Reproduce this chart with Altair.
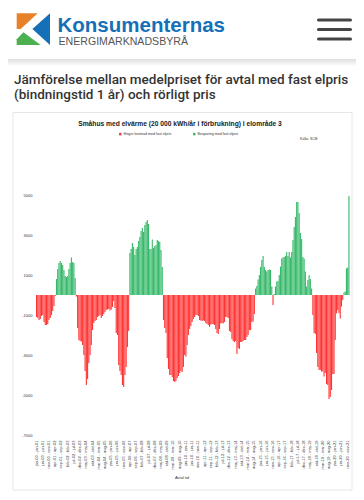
import altair as alt
import pandas as pd

# ---------------- data ----------------
years = list(range(2000, 2021))
month_names = ["jan", "feb", "mar", "apr", "maj", "jun", "jul", "aug", "sep", "okt", "nov", "dec"]

diff_2000 = [-1100, -1150, -1250, -1200, -1050, -1000, -1350, -1500, -1500, -1450, -1250, -1150]
diff_2001 = [-1000, -800, -550, -50, 800, 1300, 1600, 1700, 1600, 1500, 1250, 950]
diff_2002 = [900, 950, 1300, 1600, 1880, 1650, 1600, 850, -80, -1650, -2250, -2300]
diff_2003 = [-2330, -2500, -3000, -3800, -4500, -4200, -3400, -3000, -2500, -1750, -1400, -1300]
diff_2004 = [-1250, -1100, -1050, -1000, -1150, -1050, -950, -850, -750, -720, -700, -780]
diff_2005 = [-720, -600, -300, -650, -1900, -2000, -3500, -3800, -4000, -4500, -4600, -4000]
diff_2006 = [-3600, -2600, -1800, 2100, 2300, 2600, 2400, 2000, 2300, 2400, 2700, 2900]
diff_2007 = [3200, 3350, 3150, 3500, 3650, 3750, 3550, 2300, 2300, 2780, 2350, 2450]
diff_2008 = [2500, 2750, 2700, 2650, 2250, 1400, -1250, -1650, -1900, -3150, -3700, -4000]
diff_2009 = [-4000, -4100, -4300, -4350, -4300, -4150, -4050, -3900, -3800, -3850, -3600, -3000]
diff_2010 = [-3080, -2500, -2000, -1700, -1550, -1350, -1200, -1100, -1000, -1000, -1050, -1250]
diff_2011 = [-1280, -1300, -1280, -1300, -1400, -1450, -1500, -1600, -1480, -1450, -1450, -1500]
diff_2012 = [-1700, -1900, -1950, -1700, -1420, -1400, -1420, -1350, -1100, -1100, -1150, -1800]
diff_2013 = [-1850, -2200, -2300, -2350, -2300, -2950, -2650, -2700, -2350, -2350, -2300, -2250]
diff_2014 = [-2250, -2100, -2000, -1750, -1750, -1350, -1330, -950, 330, 450, 780, 1000]
diff_2015 = [1400, 1750, 1950, 1400, 1250, 1170, 1250, 1280, 1250, 420, -500, 50]
diff_2016 = [420, 670, 700, 1000, 1420, 1830, 1880, 1900, 1950, 2150, 1950, 2150]
diff_2017 = [1880, 2150, 2750, 3400, 3900, 4650, 4650, 4100, 3100, 2800, 1900, 1830]
diff_2018 = [1170, 420, 750, 1000, 800, 330, -1000, -1900, -1950, -2900, -3600, -3750]
diff_2019 = [-3750, -3830, -3830, -4080, -3900, -4450, -4500, -5200, -5100, -4750, -3950, -3950]
diff_2020 = [-2250, -920, -750, -900, -1170, -580, -250, 130, 180, 1330, 1380, 4950]

yearly = [diff_2000, diff_2001, diff_2002, diff_2003, diff_2004, diff_2005, diff_2006,
          diff_2007, diff_2008, diff_2009, diff_2010, diff_2011, diff_2012, diff_2013,
          diff_2014, diff_2015, diff_2016, diff_2017, diff_2018, diff_2019, diff_2020]

y_ticks = [-7000, -5000, -3000, -1000, 1000, 3000, 5000]

lbl_cost = "Högre kostnad med fast elpris"
lbl_save = "Besparing med fast elpris"
RED = "#FF3535"
GREEN = "#36B96A"

rows = []
for yr, vals in zip(years, yearly):
    for m, v in zip(month_names, vals):
        rows.append({
            "period": f"{m}-{yr % 100:02d} - {m}-{(yr + 1) % 100:02d}",
            "value": v,
            "typ": lbl_cost if v < 0 else lbl_save,
        })
df = pd.DataFrame(rows)
periods = list(df["period"])
tick_periods = periods[::5]

# ---------------- layout helpers ----------------
OX, OY = 36, 195          # page position of the plot origin
def px(x):
    return x - OX
def py(y):
    return y - OY

one = pd.DataFrame({"k": [0]})

def txt(s, x, y, size, color, font="Liberation Sans", weight="normal", align="left"):
    return alt.Chart(one).mark_text(
        text=s, font=font, fontSize=size, fontWeight=weight, color=color,
        align=align, baseline="alphabetic"
    ).encode(x=alt.value(px(x)), y=alt.value(py(y)))

def poly(path, x, y, color):
    return alt.Chart(one).mark_point(
        shape=path, size=4, filled=True, color=color, strokeWidth=0, opacity=1
    ).encode(x=alt.value(px(x)), y=alt.value(py(y)))

def hline(x1, x2, y, color, w):
    return alt.Chart(one).mark_rule(color=color, strokeWidth=w, strokeCap="round").encode(
        x=alt.value(px(x1)), x2=alt.value(px(x2)), y=alt.value(py(y)))

# ---------------- page decorations ----------------
shadow = alt.Chart(one).mark_rect(
    color=alt.Gradient(gradient="linear", x1=0, x2=0, y1=0, y2=1,
                       stops=[alt.GradientStop(color="#dedede", offset=0),
                              alt.GradientStop(color="#ffffff", offset=1)])
).encode(x=alt.value(px(0)), x2=alt.value(px(364)), y=alt.value(py(59)), y2=alt.value(py(66)))

card = alt.Chart(one).mark_rect(fill="white", stroke="#e6e6e6", strokeWidth=1).encode(
    x=alt.value(px(13)), x2=alt.value(px(352)), y=alt.value(py(112.5)), y2=alt.value(py(490)))

logo_o = poly("M0,0L21,0L4,15.7L0,15.7Z", 16.7, 13.3, "#E8822A")
logo_b = poly("M33.3,0L33.3,31.7L15.7,15.8Z", 16.7, 13.3, "#1670B8")
logo_g = poly("M0,26L6.7,19L24,31.7L0,31.7Z", 16.7, 13.3, "#4CAF50")

brand = txt("Konsumenternas", 57.5, 31.5, 20.5, "#1670B8", weight="bold")
sub = txt("ENERGIMARKNADSBYRÅ", 58.5, 45, 10.6, "#555555")

burger = [hline(318.5, 350.5, y, "#444444", 3) for y in (20, 29.5, 39)]

head1 = txt("Jämförelse mellan medelpriset för avtal med fast elpris", 14, 83.5, 13.5, "#333333",
            font="Roboto", weight=500)
head2 = txt("(bindningstid 1 år) och rörligt pris", 14, 98.5, 13.5, "#333333",
            font="Roboto", weight=500)

ctitle = txt("Småhus med elvärme (20 000 kWh/år i förbrukning) i  elområde 3", 180, 126, 6.7,
             "#1a1a1a", weight="bold", align="center")
source = txt("Källa: SCB", 300, 140, 3.6, "#333333")
xtitle = txt("Avtal tid", 182, 479, 4, "#333333", align="center")

# ---------------- bars ----------------
bars = alt.Chart(df).mark_bar().encode(
    x=alt.X("period:N", sort=periods,
            scale=alt.Scale(paddingInner=0.1, paddingOuter=0),
            axis=alt.Axis(values=tick_periods, labelAngle=270, labelFontSize=4,
                          labelFont="Liberation Sans", labelColor="#333333",
                          labelPadding=5, ticks=False, domain=False, title=None,
                          labelOverlap=False, zindex=1)),
    y=alt.Y("value:Q", scale=alt.Scale(domain=[-7000, 5000], nice=False),
            axis=alt.Axis(values=y_ticks, labelExpr="'' + datum.value", labelFontSize=4,
                          labelFont="Liberation Sans", labelColor="#333333",
                          labelPadding=4, ticks=False, domain=False, grid=False, title=None,
                          zindex=1)),
    color=alt.Color("typ:N", scale=alt.Scale(domain=[lbl_cost, lbl_save], range=[RED, GREEN]),
                    legend=alt.Legend(orient="none", legendX=px(118.5), legendY=py(132),
                                      direction="horizontal", title=None, symbolType="square",
                                      symbolSize=6, symbolStrokeWidth=0, labelFontSize=3.6,
                                      labelFont="Liberation Sans", labelColor="#333333",
                                      labelOffset=1.5, columnPadding=21, padding=0,
                                      zindex=1)),
)

chart = alt.layer(
    shadow, card, logo_o, logo_b, logo_g, brand, sub, *burger, head1, head2,
    ctitle, source, xtitle, bars
).properties(
    width=313.5, height=240,
    autosize=alt.AutoSizeParams(type="none"),
    padding={"left": 28, "top": 187, "right": 6.5, "bottom": 57},
    background="white",
).configure_view(strokeWidth=0)

chart.save("out.html", embed_options={"renderer": "svg", "actions": False})
